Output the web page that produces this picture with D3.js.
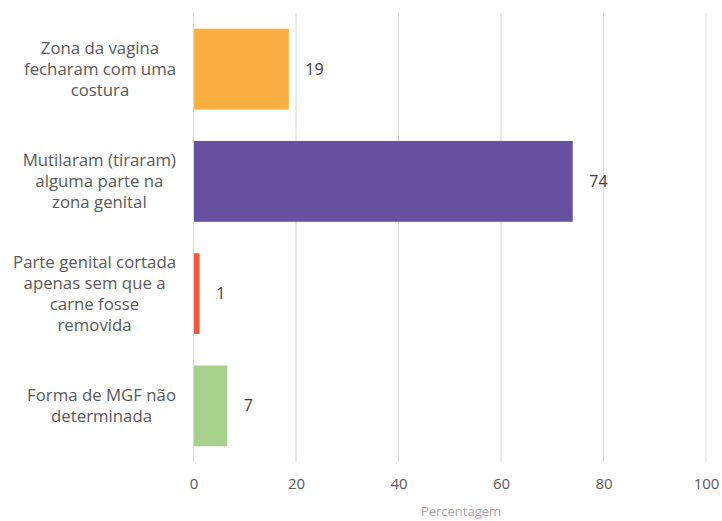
<!DOCTYPE html>
<html><head><meta charset="utf-8">
<script src="https://cdn.jsdelivr.net/npm/d3@7"></script>
<style>body{margin:0;background:#fff}svg{display:block}</style>
</head><body>
<svg id="c" width="722" height="521"></svg>
<script>
const categories = [
  ["Zona da vagina", "fecharam com uma", "costura"],
  ["Mutilaram (tiraram)", "alguma parte na", "zona genital"],
  ["Parte genital cortada", "apenas sem que a", "carne fosse", "removida"],
  ["Forma de MGF não", "determinada"]
];
const values = [18.5, 73.9, 1.1, 6.5];
const valueLabels = ["19", "74", "1", "7"];
const colors = ["#FAAF40", "#6650A0", "#F15A3B", "#A8D08D"];
const xTicks = [0, 20, 40, 60, 80, 100];
const xTitle = "Percentagem";

const svg = d3.select("#c");
const font2 = "'Open Sans', 'Liberation Sans', sans-serif";
const m = {l: 193.5, r: 16, t: 13, b: 59};
const W = 722, H = 521;
const x = d3.scaleLinear().domain([0, 100]).range([m.l, W - m.r]);
const y = d3.scaleBand().domain(d3.range(categories.length)).range([m.t, H - m.b]).paddingInner(0.28).paddingOuter(0.14);

// grid
svg.append("g").selectAll("line").data(xTicks).join("line")
  .attr("x1", d => x(d)).attr("x2", d => x(d))
  .attr("y1", m.t).attr("y2", H - m.b)
  .attr("stroke", "#d9d9d9").attr("stroke-width", 1);

// bars
svg.append("g").selectAll("rect").data(values).join("rect")
  .attr("x", x(0) + 0.5).attr("y", (d, i) => y(i))
  .attr("width", d => x(d) - x(0)).attr("height", y.bandwidth())
  .attr("fill", (d, i) => colors[i]);

// value labels
svg.append("g").selectAll("text").data(values).join("text")
  .attr("x", d => x(d) + 17).attr("y", (d, i) => y(i) + y.bandwidth() / 2)
  .attr("dy", "0.35em")
  .attr("font-family", font2).attr("font-size", 16).attr("fill", "#404040")
  .text((d, i) => valueLabels[i]);

// category labels: block right edge at x(0)-17, lines centered within block
const lh = 21;
const rightEdge = x(0) - 17.5;
const cg = svg.append("g");
categories.forEach((lines, i) => {
  const cy = y(i) + y.bandwidth() / 2;
  const t = cg.append("text").attr("text-anchor", "middle")
    .attr("font-family", font2).attr("font-size", 16.8).attr("fill", "#595959");
  const spans = lines.map((ln, j) => t.append("tspan")
      .attr("y", cy + (j - (lines.length - 1) / 2) * lh).attr("dy", "0.35em").text(ln));
  const maxW = d3.max(spans, s => s.node().getComputedTextLength());
  spans.forEach(s => s.attr("x", rightEdge - maxW / 2));
});

// x axis
const ax = svg.append("g").attr("transform", `translate(0,${H - m.b})`)
  .call(d3.axisBottom(x).tickValues(xTicks).tickSize(0).tickPadding(16));
ax.select(".domain").remove();
ax.selectAll("text").attr("font-family", font2).attr("font-size", 15).attr("fill", "#595959");

svg.append("text").attr("x", 461).attr("y", 511).attr("dy", "0.35em")
  .attr("text-anchor", "middle").attr("font-family", font2).attr("font-size", 13)
  .attr("fill", "#a6a6a6").text(xTitle);
</script>
</body></html>
